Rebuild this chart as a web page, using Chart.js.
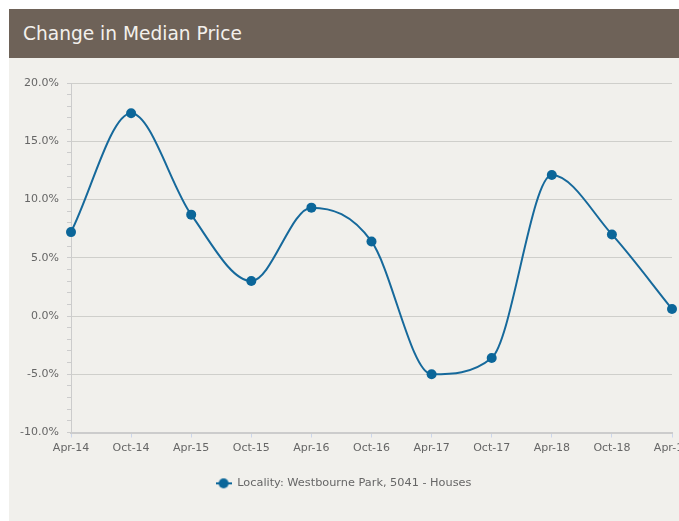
<!DOCTYPE html>
<html>
<head>
<meta charset="utf-8">
<script src="https://cdn.jsdelivr.net/npm/chart.js@4/dist/chart.umd.min.js"></script>
<style>
html,body{margin:0;padding:0;background:#fff;overflow:hidden;width:679px;height:521px;}
#card{position:absolute;left:9px;top:9px;width:700px;height:512px;background:#f1f0ec;}
#head{height:49px;background:#6e6258;color:#f3f0ec;font-family:"DejaVu Sans",sans-serif;font-size:18.6px;line-height:49px;padding-left:14px;}
#wrap{position:relative;width:690px;height:463px;}
</style>
</head>
<body>
<div id="card">
<div id="head">Change in Median Price</div>
<div id="wrap"><canvas id="priceChart"></canvas></div>
</div>
<script>

// Data

const periods = ["Apr-14","Oct-14","Apr-15","Oct-15","Apr-16","Oct-16","Apr-17","Oct-17","Apr-18","Oct-18","Apr-19"];

const medianChange = [7.2,17.4,8.7,3.0,9.3,6.4,-5.0,-3.6,12.1,7.0,0.6];

const seriesName = "Locality: Westbourne Park, 5041 - Houses";

const yMin = -10;
const yMax = 20;

// Legend marker (line + dot)

const marker = document.createElement("canvas");
marker.width = 16;
marker.height = 12;
const mctx = marker.getContext("2d");
mctx.strokeStyle = "#0b6699";
mctx.lineWidth = 2;
mctx.beginPath();
mctx.moveTo(0,6);
mctx.lineTo(16,6);
mctx.stroke();
mctx.fillStyle = "#0b6699";
mctx.beginPath();
mctx.arc(8,6,5,0,Math.PI*2);
mctx.fill();

Chart.defaults.font.family = "'DejaVu Sans', sans-serif";
Chart.defaults.font.size = 11;
Chart.defaults.color = "#666";

new Chart(
document.getElementById("priceChart"),
{
type:"line",
data:{
labels:periods,
datasets:[{
label:seriesName,
data:medianChange,
borderColor:"#16699b",
backgroundColor:"#0b6699",
borderWidth:2,
pointRadius:5,
pointHoverRadius:6,
pointBorderWidth:0,
cubicInterpolationMode:"monotone",
fill:false,
clip:false
}]
},
options:{
responsive:true,
maintainAspectRatio:false,
animation:false,
layout:{
padding:{top:25,right:27,bottom:22,left:6}
},
plugins:{
legend:{
position:"bottom",
labels:{
usePointStyle:true,
pointStyleWidth:16,
color:"#666",
padding:10,
font:{size:11.3},
generateLabels:function(chart){
return [{
text:seriesName,
pointStyle:marker,
fillStyle:"#0b6699",
strokeStyle:"#0b6699",
fontColor:"#666",
lineWidth:0,
datasetIndex:0
}];
}
}
},
tooltip:{enabled:true}
},
scales:{
x:{
grid:{
drawOnChartArea:false,
tickLength:5,
tickColor:"#ccd6eb"
},
border:{color:"#ccc",width:2},
ticks:{
padding:4,
maxRotation:0,
autoSkip:false,
color:"#666"
},
afterFit:function(s){
s.height += 9;
}
},
y:{
min:yMin,
max:yMax,
grid:{
tickLength:4,
tickColor:"#ccc",
color:function(c){
return c.tick && c.tick.value % 5 === 0 ? "#cfcfcb" : "rgba(0,0,0,0)";
}
},
border:{color:"#ccc"},
ticks:{
stepSize:1,
autoSkip:false,
padding:8,
color:"#666",
callback:function(v){
return v % 5 === 0 ? v.toFixed(1) + "%" : "";
}
},
afterFit:function(s){
s.width = 56;
}
}
}
}
}
);

</script>
</body>
</html>
